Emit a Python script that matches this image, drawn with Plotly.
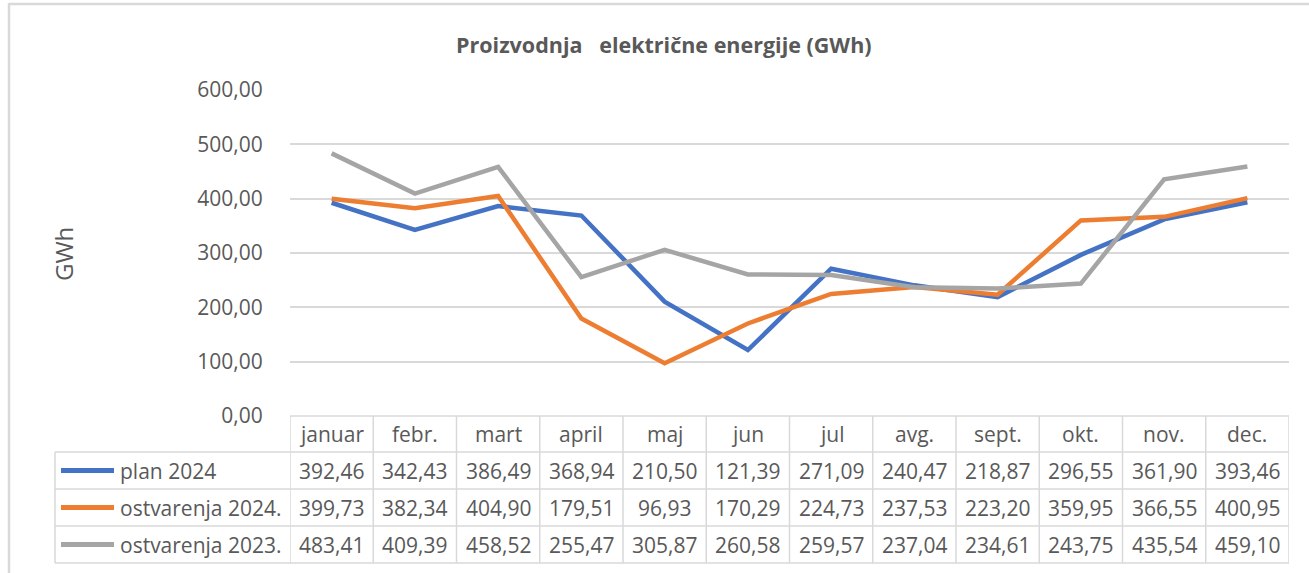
import plotly.graph_objects as go

months = ["januar", "febr.", "mart", "april", "maj", "jun", "jul", "avg.", "sept.", "okt.", "nov.", "dec."]
plan_2024 = [392.46, 342.43, 386.49, 368.94, 210.50, 121.39, 271.09, 240.47, 218.87, 296.55, 361.90, 393.46]
ostv_2024 = [399.73, 382.34, 404.90, 179.51, 96.93, 170.29, 224.73, 237.53, 223.20, 359.95, 366.55, 400.95]
ostv_2023 = [483.41, 409.39, 458.52, 255.47, 305.87, 260.58, 259.57, 237.04, 234.61, 243.75, 435.54, 459.10]
series_names = ["plan 2024", "ostvarenja 2024.", "ostvarenja 2023."]
series_values = [plan_2024, ostv_2024, ostv_2023]
series_colors = ["#4472C4", "#ED7D31", "#A5A5A5"]
y_ticks = [0, 100, 200, 300, 400, 500, 600]

W, H = 1309, 573
L, R, T, B = 290, 20, 90, 157
PW, PH = W - L - R, H - T - B
FONT = "Open Sans, Noto Sans, sans-serif"
TXT = "#595959"
GRID = "#D9D9D9"
FS = 21


def py(p):
    return (H - B - p) / PH


def px(p):
    return (p - L) / PW


def fmt(v):
    return f"{v:.2f}".replace(".", ",")


fig = go.Figure()
for name, vals, col in zip(series_names, series_values, series_colors):
    fig.add_trace(go.Scatter(x=months, y=vals, mode="lines", name=name,
                             line=dict(color=col, width=4.5), showlegend=False, hoverinfo="skip"))

shapes = []
annotations = []

# chart border (left & top)
shapes.append(dict(type="line", xref="paper", yref="paper", x0=px(9), x1=px(W + 5), y0=py(4), y1=py(4),
                   line=dict(color=GRID, width=2.5)))
shapes.append(dict(type="line", xref="paper", yref="paper", x0=px(9), x1=px(9), y0=py(3), y1=py(H + 5),
                   line=dict(color=GRID, width=2.5)))

# table geometry
row_edges = [416, 452, 489, 526, 563]
leg_left = 55
n = len(months)
shapes.append(dict(type="line", xref="x", yref="paper", x0=-0.5, x1=n - 0.5, y0=py(row_edges[0]), y1=py(row_edges[0]),
                   line=dict(color=GRID, width=1.5)))
for e in row_edges[1:]:
    shapes.append(dict(type="line", xref="paper", yref="paper", x0=px(leg_left), x1=1, y0=py(e), y1=py(e),
                       line=dict(color=GRID, width=1.5)))
for i in range(n + 1):
    shapes.append(dict(type="line", xref="x", yref="paper", x0=i - 0.5, x1=i - 0.5,
                       y0=py(row_edges[0]), y1=py(row_edges[-1]), line=dict(color=GRID, width=1.5)))
shapes.append(dict(type="line", xref="paper", yref="paper", x0=px(leg_left), x1=px(leg_left),
                   y0=py(row_edges[1]), y1=py(row_edges[-1]), line=dict(color=GRID, width=1.5)))

hc = (row_edges[0] + row_edges[1]) / 2
for m in months:
    annotations.append(dict(x=m, y=py(hc), xref="x", yref="paper", text=m, showarrow=False,
                            font=dict(family=FONT, size=FS, color=TXT), xanchor="center", yanchor="middle"))

for r, (name, vals, col) in enumerate(zip(series_names, series_values, series_colors)):
    c = (row_edges[r + 1] + row_edges[r + 2]) / 2
    shapes.append(dict(type="line", xref="paper", yref="paper", x0=px(61), x1=px(114), y0=py(c), y1=py(c),
                       line=dict(color=col, width=5)))
    annotations.append(dict(x=px(118), y=py(c), xref="paper", yref="paper", text=name, showarrow=False,
                            font=dict(family=FONT, size=FS, color=TXT), xanchor="left", yanchor="middle"))
    for m, v in zip(months, vals):
        annotations.append(dict(x=m, y=py(c), xref="x", yref="paper", text=fmt(v), showarrow=False,
                                font=dict(family=FONT, size=FS, color=TXT), xanchor="center", yanchor="middle"))

annotations.append(dict(x=px(664), y=py(45), xref="paper", yref="paper",
                        text="<b>Proizvodnja   električne energije (GWh)</b>", showarrow=False,
                        font=dict(family=FONT, size=21.5, color=TXT), xanchor="center", yanchor="middle"))
annotations.append(dict(x=px(63), y=py(254), xref="paper", yref="paper", text="GWh", textangle=-90,
                        showarrow=False, font=dict(family=FONT, size=24, color=TXT),
                        xanchor="center", yanchor="middle"))

fig.update_layout(
    width=W, height=H,
    margin=dict(l=L, r=R, t=T, b=B, pad=0),
    paper_bgcolor="white", plot_bgcolor="white",
    separators=", ",
    shapes=shapes, annotations=annotations,
    xaxis=dict(type="category", range=[-0.5, n - 0.5], showticklabels=False, showgrid=False,
               zeroline=False, showline=False, ticks=""),
    yaxis=dict(range=[0, 600], tickvals=y_ticks, tickformat=".2f", showgrid=True, gridcolor=GRID,
               gridwidth=1.5, zeroline=False, showline=False, ticks="outside", ticklen=22,
               tickcolor="rgba(0,0,0,0)", tickfont=dict(family=FONT, size=FS, color=TXT)),
)

fig.write_html("out.html", config={"displayModeBar": False},
               post_script="document.body.style.margin='0';")
